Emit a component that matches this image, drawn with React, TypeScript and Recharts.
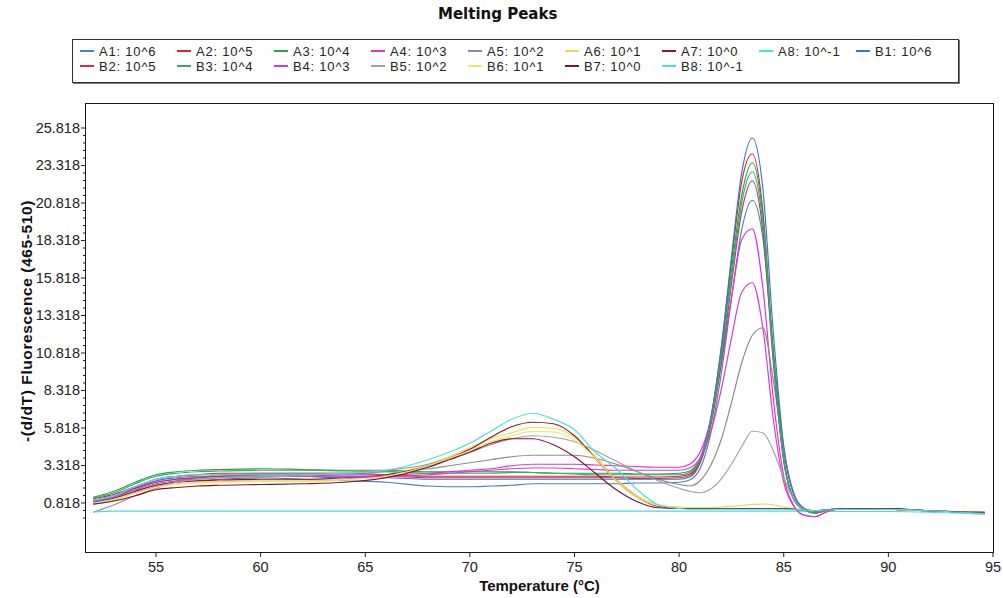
import React from 'react';
import { LineChart, Line, XAxis, YAxis } from 'recharts';

// temperature grid (°C)
const temps = [52, 53, 54, 55, 56, 57, 58, 60, 62, 64, 66, 68, 69, 70, 71, 72, 73, 74, 75, 76, 77, 78, 79, 80,
  80.5, 81, 81.5, 82, 82.5, 83, 83.5, 84, 84.5, 85, 85.5, 86, 86.5, 87, 88, 90, 92, 94.6];

const seriesKeys = ['A1', 'A2', 'A3', 'A4', 'A5', 'A6', 'A7', 'A8', 'B1', 'B2', 'B3', 'B4', 'B5', 'B6', 'B7', 'B8'];
const seriesLabels = ['A1: 10^6', 'A2: 10^5', 'A3: 10^4', 'A4: 10^3', 'A5: 10^2', 'A6: 10^1', 'A7: 10^0', 'A8: 10^-1',
  'B1: 10^6', 'B2: 10^5', 'B3: 10^4', 'B4: 10^3', 'B5: 10^2', 'B6: 10^1', 'B7: 10^0', 'B8: 10^-1'];
const seriesColors = ['#4a80c0', '#d42a2a', '#28a050', '#e030e0', '#8c8c8c', '#f0d848', '#8b1c24', '#40e0e0',
  '#3878c8', '#c8305a', '#30b060', '#d040d0', '#a0a0a0', '#f5e070', '#7a1830', '#48e0e8'];

const a1 = [0.8, 1.1, 1.6, 2.0, 2.2, 2.3, 2.4, 2.5, 2.4, 2.3, 2.2, 1.95, 1.9, 1.9, 1.95, 2.0, 2.1, 2.1, 2.1, 2.1, 2.1, 2.15, 2.15, 2.2,
  2.35, 3.1, 5.4, 9.3, 14.4, 19.1, 21.0, 18.5, 11.0, 4.5, 1.4, 0.4, 0.2, 0.3, 0.45, 0.4, 0.3, 0.15];
const a2 = [1.1, 1.4, 1.9, 2.4, 2.6, 2.7, 2.8, 2.8, 2.8, 2.8, 2.7, 2.6, 2.6, 2.6, 2.6, 2.6, 2.6, 2.6, 2.6, 2.6, 2.55, 2.55, 2.55, 2.6,
  2.75, 3.7, 6.4, 11.0, 16.9, 22.3, 24.1, 20.3, 10.6, 3.7, 1.0, 0.35, 0.15, 0.3, 0.45, 0.4, 0.3, 0.15];
const a3 = [1.2, 1.6, 2.2, 2.7, 2.9, 3.0, 3.05, 3.1, 3.05, 3.0, 3.0, 2.9, 2.9, 2.9, 2.9, 2.9, 2.85, 2.8, 2.8, 2.8, 2.8, 2.75, 2.75, 2.8,
  2.95, 3.8, 6.3, 10.7, 16.3, 21.4, 23.5, 20.0, 10.8, 3.8, 1.0, 0.35, 0.15, 0.3, 0.45, 0.4, 0.3, 0.15];
const a4 = [1.0, 1.3, 1.8, 2.2, 2.4, 2.5, 2.6, 2.7, 2.7, 2.7, 2.7, 2.8, 2.9, 3.0, 3.1, 3.3, 3.4, 3.4, 3.4, 3.35, 3.3, 3.25, 3.2, 3.2,
  3.4, 4.2, 6.3, 10.0, 14.5, 18.4, 19.1, 15.2, 7.8, 2.6, 0.6, 0.0, -0.1, 0.2, 0.45, 0.4, 0.3, 0.15];
const a5 = [0.2, 0.7, 1.3, 1.8, 2.3, 2.5, 2.7, 2.8, 2.8, 2.8, 2.9, 3.1, 3.3, 3.5, 3.7, 3.9, 4.0, 4.0, 4.0, 3.8, 3.4, 2.9, 2.4, 2.05,
  1.95, 2.3, 3.3, 5.0, 7.5, 10.2, 12.0, 12.5, 9.0, 4.2, 1.3, 0.4, 0.3, 0.35, 0.45, 0.4, 0.3, 0.15];
const a6 = [0.85, 1.1, 1.5, 1.9, 2.1, 2.2, 2.25, 2.3, 2.3, 2.4, 2.7, 3.4, 3.9, 4.5, 5.1, 5.5, 5.85, 5.8, 5.2, 3.9, 2.4, 1.3, 0.7, 0.55,
  0.5, 0.5, 0.5, 0.55, 0.6, 0.65, 0.72, 0.75, 0.7, 0.55, 0.45, 0.35, 0.3, 0.35, 0.45, 0.4, 0.3, 0.2];
const a7 = [0.9, 1.15, 1.6, 2.0, 2.2, 2.3, 2.35, 2.4, 2.4, 2.5, 2.7, 3.3, 3.8, 4.4, 5.2, 5.9, 6.2, 6.1, 5.3, 3.8, 2.3, 1.2, 0.6, 0.45,
  0.45, 0.45, 0.45, 0.45, 0.45, 0.45, 0.45, 0.45, 0.45, 0.45, 0.4, 0.35, 0.3, 0.35, 0.45, 0.45, 0.3, 0.2];
const a8 = [0.22, 0.28, 0.28, 0.28, 0.28, 0.28, 0.28, 0.28, 0.28, 0.28, 0.28, 0.28, 0.28, 0.28, 0.28, 0.28, 0.28, 0.28, 0.28, 0.28, 0.28, 0.28, 0.28, 0.28,
  0.28, 0.28, 0.28, 0.28, 0.28, 0.28, 0.28, 0.28, 0.28, 0.28, 0.28, 0.28, 0.25, 0.25, 0.25, 0.25, 0.2, 0.05];
const b1 = [0.9, 1.2, 1.8, 2.3, 2.5, 2.6, 2.6, 2.7, 2.6, 2.5, 2.5, 2.4, 2.4, 2.4, 2.4, 2.4, 2.4, 2.4, 2.4, 2.4, 2.4, 2.4, 2.4, 2.4,
  2.55, 3.5, 6.3, 11.0, 17.2, 22.9, 25.15, 21.8, 12.2, 4.6, 1.3, 0.45, 0.25, 0.35, 0.45, 0.4, 0.3, 0.15];
const b2 = [1.0, 1.3, 1.8, 2.2, 2.4, 2.5, 2.6, 2.7, 2.7, 2.6, 2.6, 2.5, 2.5, 2.5, 2.5, 2.5, 2.5, 2.5, 2.5, 2.5, 2.5, 2.45, 2.45, 2.5,
  2.65, 3.5, 5.9, 10.0, 15.4, 20.3, 22.3, 19.0, 10.2, 3.6, 1.0, 0.35, 0.15, 0.3, 0.45, 0.4, 0.3, 0.15];
const b3 = [1.15, 1.5, 2.1, 2.6, 2.8, 2.9, 2.95, 3.0, 3.0, 2.95, 2.9, 2.8, 2.8, 2.8, 2.8, 2.85, 2.85, 2.8, 2.75, 2.7, 2.7, 2.7, 2.7, 2.7,
  2.85, 3.7, 6.1, 10.4, 15.8, 20.9, 22.9, 19.5, 10.5, 3.7, 1.0, 0.35, 0.15, 0.3, 0.45, 0.4, 0.3, 0.15];
const b4 = [0.95, 1.25, 1.7, 2.1, 2.3, 2.4, 2.5, 2.6, 2.6, 2.6, 2.6, 2.7, 2.8, 2.9, 3.0, 3.1, 3.15, 3.15, 3.1, 3.05, 3.0, 3.0, 3.0, 3.0,
  3.15, 3.8, 5.5, 8.3, 11.8, 14.9, 15.5, 12.5, 6.4, 2.2, 0.55, 0.0, -0.1, 0.2, 0.45, 0.4, 0.3, 0.15];
const b5 = [0.7, 1.0, 1.5, 1.9, 2.2, 2.4, 2.5, 2.6, 2.7, 2.8, 3.0, 3.4, 3.8, 4.2, 4.7, 5.1, 5.3, 5.2, 4.9, 4.3, 3.6, 2.9, 2.3, 1.8,
  1.6, 1.5, 1.75, 2.4, 3.4, 4.6, 5.6, 5.5, 4.3, 2.5, 1.0, 0.4, 0.3, 0.35, 0.45, 0.4, 0.3, 0.15];
const b6 = [0.8, 1.05, 1.45, 1.85, 2.05, 2.15, 2.2, 2.25, 2.25, 2.35, 2.6, 3.3, 3.8, 4.3, 4.9, 5.3, 5.6, 5.55, 5.0, 3.8, 2.3, 1.2, 0.65, 0.5,
  0.45, 0.45, 0.45, 0.45, 0.45, 0.45, 0.45, 0.45, 0.45, 0.45, 0.4, 0.35, 0.3, 0.35, 0.45, 0.4, 0.3, 0.2];
const b7 = [0.75, 0.95, 1.3, 1.7, 1.85, 1.95, 2.0, 2.05, 2.1, 2.2, 2.5, 3.2, 3.7, 4.2, 4.8, 5.1, 5.1, 4.7, 3.9, 2.8, 1.7, 0.9, 0.5, 0.45,
  0.45, 0.45, 0.45, 0.45, 0.45, 0.45, 0.45, 0.45, 0.45, 0.45, 0.4, 0.35, 0.3, 0.35, 0.45, 0.45, 0.3, 0.2];
const b8 = [1.0, 1.3, 1.9, 2.4, 2.6, 2.7, 2.7, 2.7, 2.7, 2.8, 3.0, 3.7, 4.2, 4.8, 5.6, 6.4, 6.8, 6.4, 5.7, 4.2, 3.1, 1.7, 0.7, 0.45,
  0.4, 0.4, 0.4, 0.4, 0.4, 0.4, 0.4, 0.4, 0.4, 0.4, 0.4, 0.35, 0.3, 0.35, 0.4, 0.4, 0.3, 0.1];

const seriesValues = [a1, a2, a3, a4, a5, a6, a7, a8, b1, b2, b3, b4, b5, b6, b7, b8];

const xTicks = [55, 60, 65, 70, 75, 80, 85, 90, 95];
const yMajorTicks = [0.818, 3.318, 5.818, 8.318, 10.818, 13.318, 15.818, 18.318, 20.818, 23.318, 25.818];

// minor tick marks every 0.5 below each major one
const yMinorTicks = yMajorTicks.flatMap((m) => [0.5, 1, 1.5, 2].map((d) => m - d)).filter((v) => v > -0.5);
const yAllTicks = [...yMajorTicks, ...yMinorTicks].sort((p, q) => p - q);

const rows = temps.map((t, i) => {
  const row: Record<string, number> = { t };
  seriesKeys.forEach((k, s) => { row[k] = seriesValues[s][i]; });
  return row;
});

const FONT = "'Liberation Sans', Arial, sans-serif";

const YTick = (props: any) => {
  const { x, y, payload } = props;
  const major = yMajorTicks.includes(payload.value);
  return (
    <g>
      <line x1={x - (major ? 5 : 3)} x2={x} y1={y} y2={y} stroke="#222" />
      {major && (
        <text x={x - 6} y={y} dy={5} textAnchor="end" fontSize={14.5} fill="#222" fontFamily={FONT}>
          {payload.value.toFixed(3)}
        </text>
      )}
    </g>
  );
};

const XTick = (props: any) => {
  const { x, y, payload } = props;
  return (
    <g>
      <line x1={x} x2={x} y1={y} y2={y + 5} stroke="#222" />
      <text x={x} y={y + 20} textAnchor="middle" fontSize={14.5} fill="#222" fontFamily={FONT}>
        {payload.value}
      </text>
    </g>
  );
};

export default function App() {
  return (
    <div style={{ position: 'absolute', left: 0, top: 0, width: 1003, height: 598, background: '#fff', fontFamily: FONT }}>
      {/* title */}
      <div style={{ position: 'absolute', left: 438, width: 118, top: 5, textAlign: 'center', fontSize: 15, fontWeight: 'bold',
        fontFamily: "'DejaVu Sans', sans-serif", color: '#111', whiteSpace: 'nowrap' }}>
        Melting Peaks
      </div>

      {/* legend */}
      <div style={{ position: 'absolute', left: 72, top: 39, width: 887, height: 44, boxSizing: 'border-box',
        border: '1px solid #333', boxShadow: '1px 1px 0 #777' }}>
        {seriesKeys.map((k, i) => {
          const row = i < 9 ? 0 : 1;
          const col = i % 9;
          return (
            <div key={k} style={{ position: 'absolute', left: 7 + col * 97, top: row === 0 ? 4 : 19, height: 14,
              display: 'flex', alignItems: 'center', whiteSpace: 'nowrap', fontSize: 13, letterSpacing: 0.8, color: '#222' }}>
              <span style={{ display: 'inline-block', width: 14, height: 2, background: seriesColors[i], marginRight: 5 }} />
              {seriesLabels[i]}
            </div>
          );
        })}
      </div>

      <LineChart width={1003} height={598} data={rows} margin={{ top: 104, right: 10, bottom: 16, left: 0 }}
        style={{ position: 'absolute', left: 0, top: 0 }}>
        <XAxis dataKey="t" type="number" domain={[51.655, 95]} ticks={xTicks} interval={0} allowDataOverflow
          axisLine={false} tickLine={false} tickSize={0} tickMargin={0} height={30} tick={<XTick />} />
        <YAxis type="number" domain={[-2.449, 27.418]} ticks={yAllTicks} interval={0} allowDataOverflow
          axisLine={false} tickLine={false} tickSize={0} tickMargin={0} width={86} tick={<YTick />} />
        {seriesKeys.map((k, i) => (
          <Line key={k} dataKey={k} type="monotone" stroke={seriesColors[i]} strokeWidth={1.2}
            dot={false} isAnimationActive={false} />
        ))}
      </LineChart>

      {/* plot frame */}
      <div style={{ position: 'absolute', left: 85, top: 103, width: 909, height: 450, boxSizing: 'border-box',
        border: '1px solid #1a1a1a', pointerEvents: 'none' }} />

      {/* axis titles */}
      <div style={{ position: 'absolute', left: 472, top: 577, width: 135, textAlign: 'center', fontSize: 15,
        fontWeight: 'bold', color: '#111', whiteSpace: 'nowrap' }}>
        Temperature (°C)
      </div>
      <div style={{ position: 'absolute', left: 27, top: 321, width: 0, height: 0 }}>
        <div style={{ position: 'absolute', left: 0, top: 0, transform: 'translate(-50%, -50%) rotate(-90deg)',
          fontSize: 15.5, letterSpacing: 0.6, fontWeight: 'bold', color: '#111', whiteSpace: 'nowrap' }}>
          -(d/dT) Fluorescence (465-510)
        </div>
      </div>
    </div>
  );
}
